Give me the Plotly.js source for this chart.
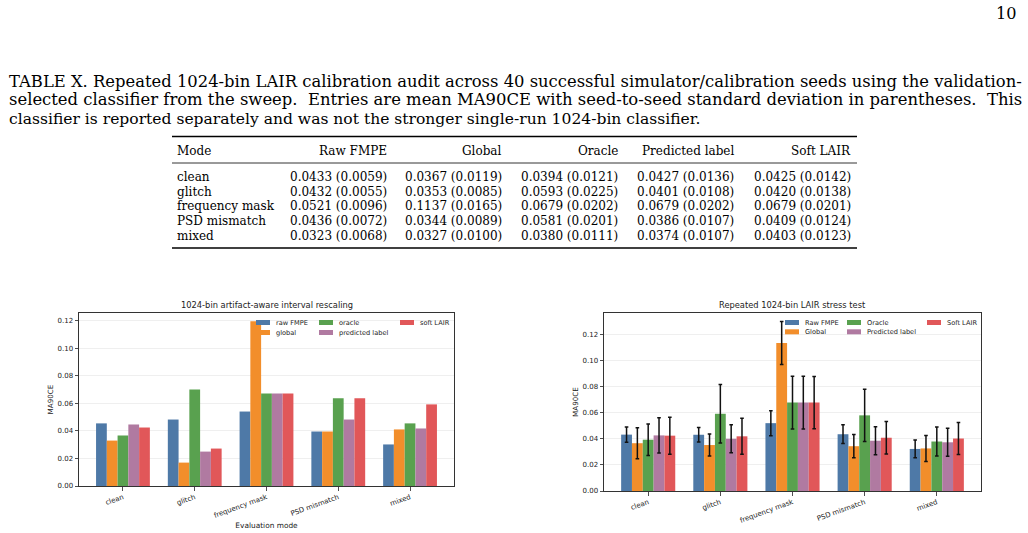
<!DOCTYPE html>
<html>
<head>
<meta charset="utf-8">
<script src="https://cdn.plot.ly/plotly-3.0.1.min.js"></script>
<style>
html,body{margin:0;padding:0;background:#fff;}
#chart{width:1028px;height:533px;}
</style>
</head>
<body>
<div id="chart"></div>
<script>
// ---------------- data ----------------
const modes = ['clean', 'glitch', 'frequency mask', 'PSD mismatch', 'mixed'];

// left panel: single-run 1024-bin artifact-aware interval rescaling
const singleNames = ['raw FMPE', 'global', 'oracle', 'predicted label', 'soft LAIR'];
const singleRaw       = [0.0455, 0.0483, 0.0541, 0.0396, 0.0302];
const singleGlobal    = [0.0330, 0.0170, 0.1197, 0.0396, 0.0411];
const singleOracle    = [0.0367, 0.0702, 0.0673, 0.0637, 0.0455];
const singlePredicted = [0.0447, 0.0250, 0.0673, 0.0483, 0.0418];
const singleSoft      = [0.0425, 0.0272, 0.0673, 0.0637, 0.0593];

// right panel + table: repeated 40-seed audit (mean, std)
const repNames = ['Raw FMPE', 'Global', 'Oracle', 'Predicted label', 'Soft LAIR'];
const repRawMean       = [0.0433, 0.0432, 0.0521, 0.0436, 0.0323];
const repRawStd        = [0.0059, 0.0055, 0.0096, 0.0072, 0.0068];
const repGlobalMean    = [0.0367, 0.0353, 0.1137, 0.0344, 0.0327];
const repGlobalStd     = [0.0119, 0.0085, 0.0165, 0.0089, 0.0100];
const repOracleMean    = [0.0394, 0.0593, 0.0679, 0.0581, 0.0380];
const repOracleStd     = [0.0121, 0.0225, 0.0202, 0.0201, 0.0111];
const repPredictedMean = [0.0427, 0.0401, 0.0679, 0.0386, 0.0374];
const repPredictedStd  = [0.0136, 0.0108, 0.0202, 0.0107, 0.0107];
const repSoftMean      = [0.0425, 0.0420, 0.0679, 0.0409, 0.0403];
const repSoftStd       = [0.0142, 0.0138, 0.0201, 0.0124, 0.0123];

const tableHeader = ['Mode', 'Raw FMPE', 'Global', 'Oracle', 'Predicted label', 'Soft LAIR'];
const yTickVals = [0, 0.02, 0.04, 0.06, 0.08, 0.10, 0.12];

const captionLines = [
  'TABLE X. Repeated 1024-bin LAIR calibration audit across 40 successful simulator/calibration seeds using the validation-',
  'selected classifier from the sweep.  Entries are mean MA90CE with seed-to-seed standard deviation in parentheses.  This',
  'classifier is reported separately and was not the stronger single-run 1024-bin classifier.'
];
const pageNumber = '10';
const leftTitle = '1024-bin artifact-aware interval rescaling';
const rightTitle = 'Repeated 1024-bin LAIR stress test';
const yLabel = 'MA90CE';
const xLabel = 'Evaluation mode';

// ---------------- styling ----------------
const colors = ['#4e79a7', '#f28e2b', '#59a14f', '#b07aa1', '#e15759'];
const W = 1028, H = 533;
const SANS = 'DejaVu Sans';
const SERIF = 'DejaVu Serif';
const px = p => p / W;
const py = p => 1 - p / H;

const cv = document.createElement('canvas').getContext('2d');
function measure(t, size, fam) { cv.font = size + 'px "' + fam + '"'; return cv.measureText(t).width; }
function fitSize(t, target, fam) { return 20 * target / measure(t, 20, fam); }

const singleSeries = [singleRaw, singleGlobal, singleOracle, singlePredicted, singleSoft];
const repMeans = [repRawMean, repGlobalMean, repOracleMean, repPredictedMean, repSoftMean];
const repStds = [repRawStd, repGlobalStd, repOracleStd, repPredictedStd, repSoftStd];

const traces = [];
singleSeries.forEach((ys, i) => {
  traces.push({
    type: 'bar', x: modes, y: ys, name: singleNames[i],
    xaxis: 'x', yaxis: 'y', showlegend: false,
    marker: {color: colors[i], line: {width: 0}}
  });
});
repMeans.forEach((ys, i) => {
  traces.push({
    type: 'bar', x: modes, y: ys, name: repNames[i],
    xaxis: 'x2', yaxis: 'y2', showlegend: false,
    marker: {color: colors[i], line: {width: 0}},
    error_y: {type: 'data', array: repStds[i], visible: true, color: '#111', thickness: 1.5, width: 1.8}
  });
});

const axFont = {family: SANS, size: 7, color: '#222'};
function xAxis(domain, anchor, title) {
  const a = {
    domain: domain, anchor: anchor, type: 'category', range: [-0.6125, 4.6125],
    tickangle: -20, tickfont: axFont, ticks: 'outside', ticklen: 3.5, tickwidth: 0.8, tickcolor: '#222',
    showline: true, linecolor: '#333', linewidth: 1, mirror: true, showgrid: false, zeroline: false,
    fixedrange: true
  };
  if (title) a.title = {text: title, font: {family: SANS, size: 7.4, color: '#222'}, standoff: 4};
  return a;
}
function yAxis(domain, anchor, top) {
  return {
    domain: domain, anchor: anchor, range: [0, top], tickvals: yTickVals, tickformat: '.2f',
    tickfont: axFont, ticks: 'outside', ticklen: 3.5, tickwidth: 0.8, tickcolor: '#222',
    showline: true, linecolor: '#333', linewidth: 1, mirror: true,
    showgrid: true, gridcolor: '#ebebeb', gridwidth: 0.8, zeroline: false,
    title: {text: yLabel, font: {family: SANS, size: 7.2, color: '#222'}, standoff: 2},
    fixedrange: true
  };
}

const annotations = [];
const shapes = [];

// page number and caption (sizes fitted to the measured line widths of the reference)
const capSizes = [fitSize(captionLines[0], 1014, SERIF), fitSize(captionLines[1], 1014, SERIF), fitSize(captionLines[2], 692, SERIF)];
const capSize = (capSizes[0] + capSizes[1] + capSizes[2]) / 3;
annotations.push({xref: 'paper', yref: 'paper', x: px(1019), y: py(14), xanchor: 'right', yanchor: 'middle',
  text: pageNumber, showarrow: false, font: {family: SERIF, size: capSize, color: '#000'}});
const capY = [81, 100, 119];
captionLines.forEach((t, i) => {
  annotations.push({xref: 'paper', yref: 'paper', x: px(7), y: py(capY[i]), xanchor: 'left', yanchor: 'middle',
    text: t, showarrow: false, font: {family: SERIF, size: capSizes[i], color: '#000'}});
});

// table
const tabSize = Math.min(fitSize('0.0433 (0.0059)', 107, SERIF), fitSize('frequency mask', 97, SERIF));
const colRight = [389, 504, 620, 736, 853];
const headerY = 150.5;
const rowY = [177.5, 192, 206.5, 221, 235.5];
const tabFont = {family: SERIF, size: tabSize, color: '#000'};
annotations.push({xref: 'paper', yref: 'paper', x: px(175), y: py(headerY), xanchor: 'left', yanchor: 'middle',
  text: tableHeader[0], showarrow: false, font: tabFont});
for (let c = 1; c < tableHeader.length; c++) {
  annotations.push({xref: 'paper', yref: 'paper', x: px(colRight[c - 1]), y: py(headerY), xanchor: 'right', yanchor: 'middle',
    text: tableHeader[c], showarrow: false, font: tabFont});
}
modes.forEach((m, r) => {
  annotations.push({xref: 'paper', yref: 'paper', x: px(175), y: py(rowY[r]), xanchor: 'left', yanchor: 'middle',
    text: m, showarrow: false, font: tabFont});
  for (let c = 0; c < 5; c++) {
    annotations.push({xref: 'paper', yref: 'paper', x: px(colRight[c]), y: py(rowY[r]), xanchor: 'right', yanchor: 'middle',
      text: repMeans[c][r].toFixed(4) + ' (' + repStds[c][r].toFixed(4) + ')', showarrow: false, font: tabFont});
  }
});
[[136.5, 1.4], [163, 0.8], [248, 1.4]].forEach(([y, w]) => {
  shapes.push({type: 'line', xref: 'paper', yref: 'paper', x0: px(172), x1: px(857), y0: py(y), y1: py(y),
    line: {color: '#000', width: w}});
});

// panel titles
[['x', 'y', leftTitle], ['x2', 'y2', rightTitle]].forEach(([xa, ya, t]) => {
  annotations.push({xref: xa + ' domain', yref: ya + ' domain', x: 0.5, y: 1, xanchor: 'center', yanchor: 'bottom',
    yshift: 1, text: t, showarrow: false, font: {family: SANS, size: 8.3, color: '#222'}});
});

// manual legends (matplotlib-style, 3 columns, column-major)
function addLegend(names, colX, rowYs) {
  names.forEach((n, i) => {
    const col = Math.floor(i / 2), row = i % 2;
    const x0 = colX[col], yc = rowYs[row];
    shapes.push({type: 'rect', xref: 'paper', yref: 'paper', x0: px(x0), x1: px(x0 + 14), y0: py(yc - 2.5), y1: py(yc + 2.5),
      fillcolor: colors[i], line: {width: 0}});
    annotations.push({xref: 'paper', yref: 'paper', x: px(x0 + 18), y: py(yc), xanchor: 'left', yanchor: 'middle',
      text: n, showarrow: false, font: {family: SANS, size: 6.6, color: '#222'}});
  });
}
addLegend(singleNames, [256, 319, 400], [322.5, 332.5]);
addLegend(repNames, [785, 847, 927], [322.5, 331.8]);

const layout = {
  width: W, height: H,
  margin: {l: 0, r: 0, t: 0, b: 0, pad: 0},
  paper_bgcolor: '#fff', plot_bgcolor: '#fff',
  font: {family: SANS, color: '#222'},
  showlegend: false,
  barmode: 'group', bargap: 0.25, bargroupgap: 0,
  xaxis: xAxis([px(79), px(454)], 'y', xLabel),
  yaxis: yAxis([(H - 486) / H, (H - 313) / H], 'x', 0.1257),
  xaxis2: xAxis([px(604), px(981)], 'y2', null),
  yaxis2: yAxis([(H - 491) / H, (H - 313) / H], 'x2', 0.1367),
  annotations: annotations,
  shapes: shapes
};

Plotly.newPlot('chart', traces, layout, {displayModeBar: false, staticPlot: true});
</script>
</body>
</html>
